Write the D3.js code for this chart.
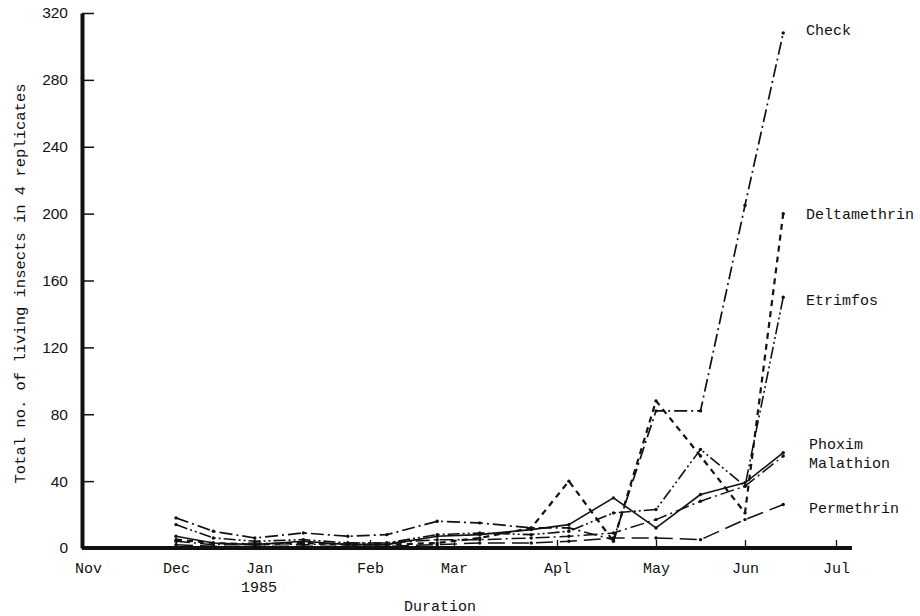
<!DOCTYPE html>
<html>
<head>
<meta charset="utf-8">
<script src="https://cdn.jsdelivr.net/npm/d3@7"></script>
<style>
  body { margin: 0; background: #fff; }
  svg { display: block; }
  .mono { font-family: "Liberation Mono", "DejaVu Sans Mono", monospace; font-size: 15px; fill: #111; }
  .ylab text { font-family: "Liberation Sans", Arial, sans-serif; font-size: 15.5px; fill: #111; }
</style>
</head>
<body>
<svg id="chart"></svg>
<script>
// month ticks (index 0 = Nov 1984)
var months = ["Nov", "Dec", "Jan", "Feb", "Mar", "Apl", "May", "Jun", "Jul"]
var yTicks = [0, 40, 80, 120, 160, 200, 240, 280, 320]

// sampling dates, in months from 1 Nov
var sampleTimes = [1.0, 1.45, 1.95, 2.4, 2.8, 3.2, 3.8, 4.25, 4.75, 5.12, 5.57, 6.0, 6.5, 7.0, 7.42]

var seriesNames = ["Check", "Deltamethrin", "Etrimfos", "Phoxim", "Malathion", "Permethrin"]
var check        = [18, 10, 6, 9, 7, 8, 16, 15, 12, 12, 5, 82, 82, 205, 308]
var deltamethrin = [5, 3, 2, 3, 2, 2, 3, 6, 12, 40, 4, 88, 55, 21, 200]
var etrimfos     = [14, 6, 4, 5, 3, 3, 8, 9, 8, 10, 21, 23, 59, 37, 150]
var phoxim       = [7, 3, 2, 4, 2, 2, 7, 8, 11, 14, 30, 12, 32, 39, 57]
var malathion    = [4, 2, 3, 2, 3, 3, 5, 5, 6, 7, 9, 17, 28, 37, 55]
var permethrin   = [2, 1, 1, 1, 1, 1, 2, 3, 3, 4, 6, 6, 5, 17, 26]

var seriesValues = [check, deltamethrin, etrimfos, phoxim, malathion, permethrin]

var screen = {width: 920, height: 616}
var svg = d3.select("#chart")
    .attr("width", screen.width)
    .attr("height", screen.height)

// month positions on the original typed chart are not evenly spaced
var xScale = d3.scaleLinear()
    .domain(d3.range(months.length))
    .range([82, 176, 259, 370, 454, 557, 656, 745, 836])
var yScale = d3.scaleLinear()
    .domain([0, 320])
    .range([548, 13])

var styles = [
  {dash: "13,4,2,4", width: 1.7},
  {dash: "6,5", width: 2.2},
  {dash: "12,3,2,3,2,3", width: 1.6},
  {dash: null, width: 1.6},
  {dash: "14,4,2,4", width: 1.5},
  {dash: "17,7", width: 1.5}
]
var labelNudge = [-3, 0, 3, -9, 7, 3]

var series = seriesNames.map(function(name, i) {
  return {
    name: name,
    points: sampleTimes.map(function(t, j) { return {t: t, v: seriesValues[i][j]} }),
    style: styles[i],
    nudge: labelNudge[i]
  }
})

// axes
var yAxis = d3.axisLeft(yScale)
    .tickValues(yTicks)
    .tickSizeInner(-12)
    .tickSizeOuter(0)
    .tickPadding(14)
var gy = svg.append("g")
    .classed("ylab", true)
    .attr("transform", "translate(82,0)")
    .call(yAxis)
gy.select(".domain").attr("stroke", "#111").attr("stroke-width", 4)
gy.selectAll(".tick line").attr("stroke", "#111").attr("stroke-width", 1.5)

var xAxis = d3.axisBottom(xScale)
    .tickValues(d3.range(months.length))
    .tickFormat(function(i) { return months[i] })
    .tickSizeInner(-8)
    .tickSizeOuter(0)
    .tickPadding(14)
var gx = svg.append("g")
    .attr("transform", "translate(0,548)")
    .call(xAxis)
gx.select(".domain").attr("d", "M82,0H852").attr("stroke", "#111").attr("stroke-width", 4)
gx.selectAll(".tick line").attr("stroke", "#111").attr("stroke-width", 1.3)
gx.selectAll(".tick text").attr("class", "mono")
    .attr("dx", function(i) { return i === 0 ? 6 : 0 })
svg.selectAll("g").attr("font-family", null).attr("font-size", null)

// labels
svg.append("text")
    .attr("class", "mono")
    .attr("text-anchor", "middle")
    .attr("x", xScale(2))
    .attr("y", 592)
    .text("1985")
svg.append("text")
    .attr("class", "mono")
    .attr("text-anchor", "middle")
    .attr("x", 440)
    .attr("y", 611)
    .text("Duration")
svg.append("g")
    .attr("transform", "translate(25," + (yScale(160) + 3) + ")")
    .append("text")
    .attr("class", "mono")
    .attr("text-anchor", "middle")
    .attr("transform", "rotate(-90)")
    .style("font-size", "15.5px")
    .text("Total no. of living insects in 4 replicates")

// lines
var line = d3.line()
    .x(function(d) { return xScale(d.t) })
    .y(function(d) { return yScale(d.v) })

var groups = svg.append("g")
    .selectAll("g")
    .data(series)
    .enter()
    .append("g")

groups.append("path")
    .attr("d", function(s) { return line(s.points) })
    .attr("fill", "none")
    .attr("stroke", "#111")
    .attr("stroke-width", function(s) { return s.style.width })
    .attr("stroke-dasharray", function(s) { return s.style.dash })
    .attr("stroke-linejoin", "round")

groups.selectAll("circle")
    .data(function(s) { return s.points })
    .enter()
    .append("circle")
    .attr("cx", function(d) { return xScale(d.t) })
    .attr("cy", function(d) { return yScale(d.v) })
    .attr("r", 1.7)
    .attr("fill", "#111")

groups.append("text")
    .attr("class", "mono")
    .attr("x", function(s, i) { return i < 3 ? 806 : 809 })
    .attr("y", function(s) { return yScale(s.points[s.points.length - 1].v) + s.nudge })
    .attr("dy", "0.35em")
    .text(function(s) { return s.name })
</script>
</body>
</html>
